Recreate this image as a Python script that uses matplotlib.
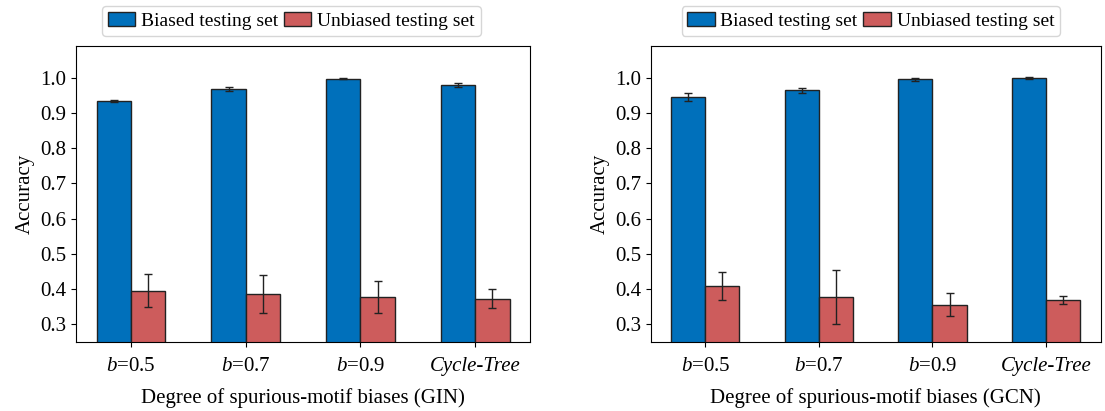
import numpy as np
import matplotlib
matplotlib.use('Agg')
import matplotlib.pyplot as plt

plt.rcParams['font.family'] = ['Liberation Serif', 'DejaVu Serif']
plt.rcParams['mathtext.fontset'] = 'custom'
plt.rcParams['mathtext.rm'] = 'Liberation Serif'
plt.rcParams['mathtext.it'] = 'Liberation Serif:italic'

categories = [r'$b$=0.5', r'$b$=0.7', r'$b$=0.9', 'Cycle-Tree']
series_names = ['Biased testing set', 'Unbiased testing set']

# GIN
gin_biased = [0.934, 0.969, 0.997, 0.980]
gin_biased_err = [0.002, 0.006, 0.002, 0.005]
gin_unbiased = [0.395, 0.386, 0.377, 0.373]
gin_unbiased_err = [0.047, 0.053, 0.045, 0.027]

# GCN
gcn_biased = [0.946, 0.965, 0.995, 0.999]
gcn_biased_err = [0.012, 0.007, 0.004, 0.004]
gcn_unbiased = [0.408, 0.377, 0.356, 0.370]
gcn_unbiased_err = [0.040, 0.077, 0.032, 0.011]

yticks = [0.3, 0.4, 0.5, 0.6, 0.7, 0.8, 0.9, 1.0]

blue = '#0070BB'
red = '#CD5C5C'
w = 0.3
fs = 15

fig = plt.figure(figsize=(11.05, 4.11), dpi=100)
ax1 = fig.add_axes([0.0688, 0.168, 0.411, 0.720])
ax2 = fig.add_axes([0.589, 0.168, 0.407, 0.720])

panels = [
    (ax1, gin_biased, gin_biased_err, gin_unbiased, gin_unbiased_err,
     'Degree of spurious-motif biases (GIN)', 0.474),
    (ax2, gcn_biased, gcn_biased_err, gcn_unbiased, gcn_unbiased_err,
     'Degree of spurious-motif biases (GCN)', 0.489),
]

x = np.arange(len(categories))
for ax, b, be, u, ue, xl, lx in panels:
    ax.bar(x - w/2, b, w, yerr=be, color=blue, edgecolor='#222222', linewidth=1,
           capsize=3, error_kw=dict(ecolor='#222222', elinewidth=1, capthick=1),
           label=series_names[0])
    ax.bar(x + w/2, u, w, yerr=ue, color=red, edgecolor='#222222', linewidth=1,
           capsize=3, error_kw=dict(ecolor='#222222', elinewidth=1, capthick=1),
           label=series_names[1])
    ax.set_ylim(0.25, 1.09)
    ax.set_yticks(yticks)
    ax.set_yticklabels(['%.1f' % t for t in yticks], fontsize=fs)
    ax.set_xticks(x)
    ax.set_xticklabels(categories, fontsize=fs)
    ax.tick_params(axis='x', pad=7)
    ax.get_xticklabels()[-1].set_fontstyle('italic')
    ax.set_xlabel(xl, fontsize=fs, labelpad=9)
    ax.set_ylabel('Accuracy', fontsize=fs)
    ax.legend(loc='lower center', bbox_to_anchor=(lx, 1.035), ncol=2, fontsize=14,
              handlelength=1.4, handletextpad=0.3, columnspacing=0.3,
              borderpad=0.3, borderaxespad=0, fancybox=True)

fig.savefig('out.png', dpi=100)
